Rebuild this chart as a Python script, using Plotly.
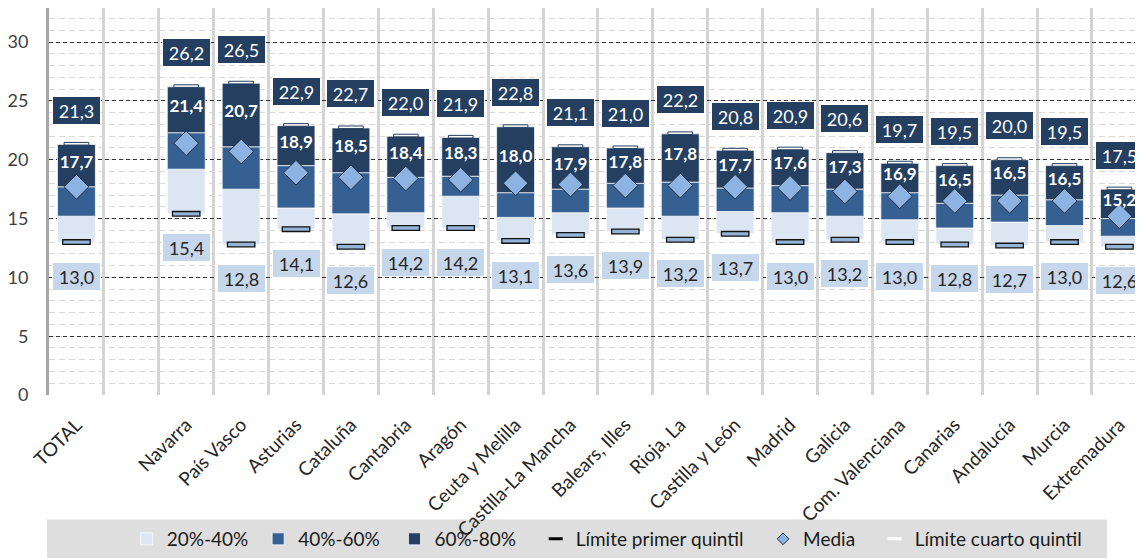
import plotly.graph_objects as go

# ---------------- data ----------------
categories = ["TOTAL", " ", "Navarra", "País Vasco", "Asturias", "Cataluña", "Cantabria",
              "Aragón", "Ceuta y Melilla", "Castilla-La Mancha", "Balears, Illes", "Rioja, La",
              "Castilla y León", "Madrid", "Galicia", "Com. Valenciana", "Canarias",
              "Andalucía", "Murcia", "Extremadura"]
p20 = [13.0, None, 15.4, 12.8, 14.1, 12.6, 14.2, 14.2, 13.1, 13.6, 13.9, 13.2, 13.7, 13.0, 13.2, 13.0, 12.8, 12.7, 13.0, 12.6]
p40 = [15.2, None, 19.2, 17.5, 15.9, 15.4, 15.5, 16.9, 15.1, 15.5, 15.9, 15.2, 15.6, 15.5, 15.2, 14.9, 14.2, 14.7, 14.4, 13.5]
p60 = [17.7, None, 22.3, 21.1, 19.5, 18.9, 18.5, 18.6, 17.2, 17.5, 18.0, 18.1, 17.6, 17.8, 17.5, 17.2, 16.3, 17.0, 16.6, 15.0]
p80 = [21.3, None, 26.2, 26.5, 22.9, 22.7, 22.0, 21.9, 22.8, 21.1, 21.0, 22.2, 20.8, 20.9, 20.6, 19.7, 19.5, 20.0, 19.5, 17.5]
media = [17.7, None, 21.4, 20.7, 18.9, 18.5, 18.4, 18.3, 18.0, 17.9, 17.8, 17.8, 17.7, 17.6, 17.3, 16.9, 16.5, 16.5, 16.5, 15.2]
y_ticks = [0, 5, 10, 15, 20, 25, 30]
legend_names = ["20%-40%", "40%-60%", "60%-80%", "Límite primer quintil", "Media", "Límite cuarto quintil"]

# ---------------- styles ----------------
FONT = "Lato, 'Open Sans', sans-serif"
C_LIGHT = "#DCE6F2"
C_MED = "#366092"
C_DARK = "#243F60"
C_DIAM = "#8DB3E2"
C_P20 = "#95B3D7"
C_LBL_LOW = "#C6D6EB"
NB = "\u00a0"
legend_pad = [1, 2, 3, 3, 3, 0]  # visual spacing between legend entries
leg = [n + NB * p for n, p in zip(legend_names, legend_pad)]


def diff(a, b):
    return [None if (x is None or y is None) else round(x - y, 3) for x, y in zip(a, b)]


def fmt(v):
    return f"{v:.1f}".replace(".", ",")


fig = go.Figure()
seg_line = dict(color="rgba(255,255,255,0.7)", width=1)
fig.add_trace(go.Bar(x=categories, y=diff(p40, p20), base=p20, width=0.69, name=leg[0],
                     marker=dict(color=C_LIGHT, line=seg_line), legendrank=1))
fig.add_trace(go.Bar(x=categories, y=diff(p60, p40), base=p40, width=0.69, name=leg[1],
                     marker=dict(color=C_MED, line=seg_line), legendrank=2))
fig.add_trace(go.Bar(x=categories, y=diff(p80, p60), base=p60, width=0.69, name=leg[2],
                     marker=dict(color=C_DARK, line=seg_line), legendrank=3))

# first quintile limit markers (small boxes)
fig.add_trace(go.Bar(x=categories, y=[None if v is None else 0.4 for v in p20],
                     base=[None if v is None else v - 0.2 for v in p20], width=0.5,
                     marker=dict(color=C_P20, line=dict(color="#111111", width=1.3)),
                     showlegend=False, hoverinfo="skip"))
# fourth quintile limit markers
fig.add_trace(go.Bar(x=categories, y=[None if v is None else 0.22 for v in p80],
                     base=[None if v is None else v - 0.05 for v in p80], width=0.45,
                     marker=dict(color="#FFFFFF", line=dict(color=C_DARK, width=1)),
                     showlegend=False, hoverinfo="skip"))
# mean diamonds
fig.add_trace(go.Scatter(x=categories, y=media, mode="markers",
                         marker=dict(symbol="diamond", size=19, color=C_DIAM,
                                     line=dict(color="#1F2D3D", width=1)),
                         showlegend=False, hoverinfo="skip"))
# mean labels in dark segment
mid_dark = [None if (a is None) else (a + b) / 2 + 0.2 for a, b in zip(p60, p80)]
fig.add_trace(go.Scatter(x=categories, y=mid_dark, mode="text",
                         text=[None if v is None else fmt(v) for v in media],
                         textfont=dict(family=FONT, size=17, color="white", weight="bold"),
                         showlegend=False, hoverinfo="skip"))

# legend-only entries
fig.add_trace(go.Scatter(x=[None], y=[None], mode="markers", name=leg[3],
                         marker=dict(symbol="line-ew", size=10, line=dict(color="black", width=3)),
                         legendrank=4))
fig.add_trace(go.Scatter(x=[None], y=[None], mode="markers", name=leg[4],
                         marker=dict(symbol="diamond", size=9, color=C_DIAM,
                                     line=dict(color="#1F2D3D", width=1)), legendrank=5))
fig.add_trace(go.Scatter(x=[None], y=[None], mode="markers", name=leg[5],
                         marker=dict(symbol="line-ew", size=10, line=dict(color="white", width=3)),
                         legendrank=6))

# value label boxes
annotations = []
for c, lo, hi in zip(categories, p20, p80):
    if hi is None:
        continue
    annotations.append(dict(x=c, y=hi + 2.9, xref="x", yref="y", text=fmt(hi), showarrow=False,
                            font=dict(family=FONT, size=18, color="white"), bgcolor=C_DARK,
                            bordercolor="#FFFFFF", borderwidth=1, borderpad=1, width=45, height=25))
    annotations.append(dict(x=c, y=lo - 2.9, xref="x", yref="y", text=fmt(lo), showarrow=False,
                            font=dict(family=FONT, size=18, color="#262626"), bgcolor=C_LBL_LOW,
                            bordercolor="#FFFFFF", borderwidth=1, borderpad=1, width=45, height=25))

# the page body has an 8px default margin; size the figure to fill the window from there
fig.update_layout(
    width=1135, height=550,
    margin=dict(l=41, r=0, t=0, b=162),
    paper_bgcolor="white", plot_bgcolor="white",
    barmode="overlay",
    font=dict(family=FONT, color="#262626"),
    annotations=annotations,
    showlegend=True,
    legend=dict(orientation="h", x=0.071, xanchor="left", y=-0.371, yanchor="middle",
                bgcolor="rgba(0,0,0,0)", font=dict(family=FONT, size=19, color="#1A1A1A"),
                itemwidth=30, traceorder="normal"),
    shapes=[dict(type="rect", xref="paper", yref="paper", x0=-0.0018, x1=0.967,
                 y0=-0.43, y1=-0.322, fillcolor="#DEDEDE", line=dict(width=0), layer="below")],
)
fig.update_xaxes(type="category", range=[-0.5, 19.43], tickson="boundaries", automargin=False,
                 showgrid=True, gridcolor="#D4D4D4", gridwidth=3, showline=False, ticks="",
                 tickangle=-45, tickfont=dict(family=FONT, size=19, color="#262626"),
                 ticklabelstandoff=14, zeroline=False)
fig.update_yaxes(range=[0, 32.9], tickvals=y_ticks, showgrid=True, gridcolor="#333333", gridwidth=1,
                 griddash="4px,3px", zeroline=False, showline=True, linecolor="#A6A6A6", linewidth=3,
                 automargin=False,
                 tickfont=dict(family=FONT, size=18, color="#404040"), ticklabelstandoff=14,
                 minor=dict(dtick=1, showgrid=True, gridcolor="#D9D9D9", griddash="6px,4px", gridwidth=1))

fig.write_html("out.html")
